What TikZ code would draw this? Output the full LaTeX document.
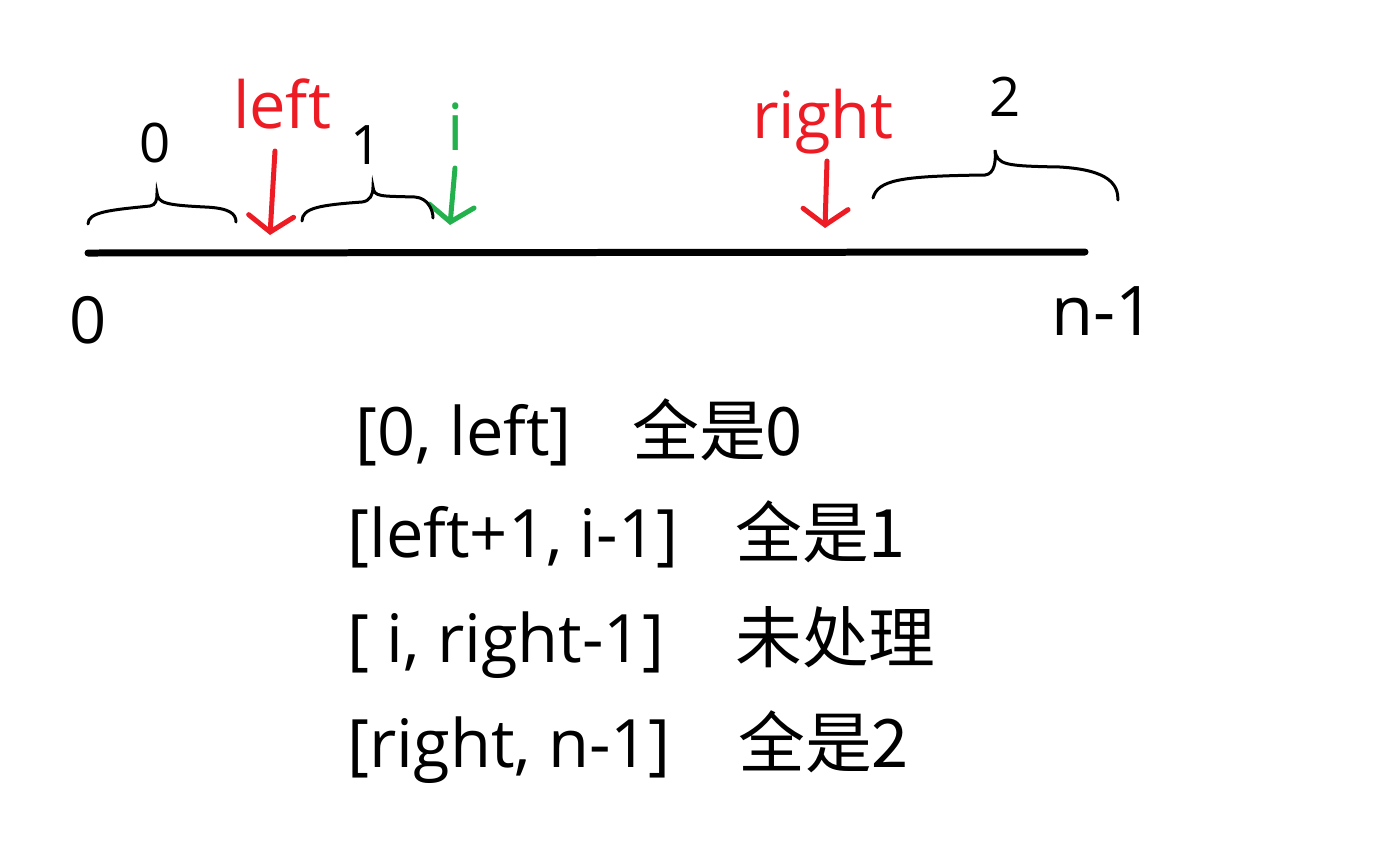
\documentclass[tikz,border=0pt]{standalone}
\usepackage{fontspec}
\setmainfont{Open Sans}
\newfontfamily\cjk{Noto Sans CJK SC}
\usetikzlibrary{arrows.meta}
\definecolor{ptrred}{RGB}{237,28,36}
\definecolor{ptrgreen}{RGB}{34,177,76}

\begin{document}
\begin{tikzpicture}[
  x=0.02cm, y=-0.02cm,
  lbl/.style={inner sep=0pt, anchor=base, font=\fontsize{37}{40}\selectfont},
  row/.style={inner sep=0pt, anchor=base west, font=\fontsize{38}{42}\selectfont},
  hand/.style={inner sep=0pt, font=\fontsize{31}{34}\selectfont},
  brace/.style={line width=0.06cm, line cap=round},
  arr/.style={line width=0.1cm, line cap=round,
              -{Straight Barb[length=0.32cm,width=0.9cm,line cap=round]}},
]
\useasboundingbox (0,0) rectangle (1379,843);

% ---- array line ----
\coordinate (lineL) at (88,253);
\coordinate (lineR) at (1085,252);
\draw[line width=0.14cm, line cap=round] (lineL) -- (lineR);
\node[lbl] (zero) at (88,343) {0};
\node[lbl, font=\fontsize{39}{42}\selectfont] (last) at (1103,335) {n-1};

% ---- pointers ----
\node[lbl, text=ptrred]   (left)  at (282,128) {left};
\node[lbl, text=ptrgreen] (idx)   at (456,150) {i};
\node[lbl, text=ptrred]   (right) at (823,138) {right};
\coordinate (leftS)  at (275,151);
\coordinate (leftT)  at (270,235);
\coordinate (idxS)   at (455,168);
\coordinate (idxT)   at (450,225);
\coordinate (rightS) at (827,161);
\coordinate (rightT) at (825,228);
\draw[arr, ptrred]   (leftS)  -- (leftT);
\draw[arr, ptrgreen] (idxS)   -- (idxT);
\draw[arr, ptrred]   (rightS) -- (rightT);

% ---- braces ----
\draw[brace] (88,224) .. controls (88,212) and (110,210) .. (150,206)
  .. controls (156,205) and (157,200) .. (157,193)
  .. controls (158,203) and (165,205) .. (205,207)
  .. controls (230,208) and (236,214) .. (236,222);
\draw[brace] (302,221) .. controls (302,208) and (320,205) .. (362,202)
  .. controls (370,201) and (373,195) .. (373,187)
  .. controls (374,197) and (380,196) .. (415,197)
  .. controls (428,198) and (433,210) .. (433,218);
\draw[brace] (873,198) .. controls (878,180) and (900,176) .. (985,175)
  .. controls (995,174) and (996,160) .. (995,150)
  .. controls (997,165) and (1005,166) .. (1060,167)
  .. controls (1110,170) and (1118,185) .. (1118,200);
\node[hand] (b0) at (155,143) {0};
\node[hand] (b1) at (366,145) {1};
\node[hand] (b2) at (1005,97) {2};

% ---- ranges ----
\node[row] (r1) at (355,455) {[0, left]};
\node[row] (c1) at (632,455) {\cjk 全是0};
\node[row] (r2) at (347,557) {[left+1, i-1]};
\node[row] (c2) at (735,557) {\cjk 全是1};
\node[row] (r3) at (347,662) {[ i, right-1]};
\node[row] (c3) at (735,662) {\cjk 未处理};
\node[row] (r4) at (347,767) {[right, n-1]};
\node[row] (c4) at (738,767) {\cjk 全是2};
\end{tikzpicture}
\end{document}
